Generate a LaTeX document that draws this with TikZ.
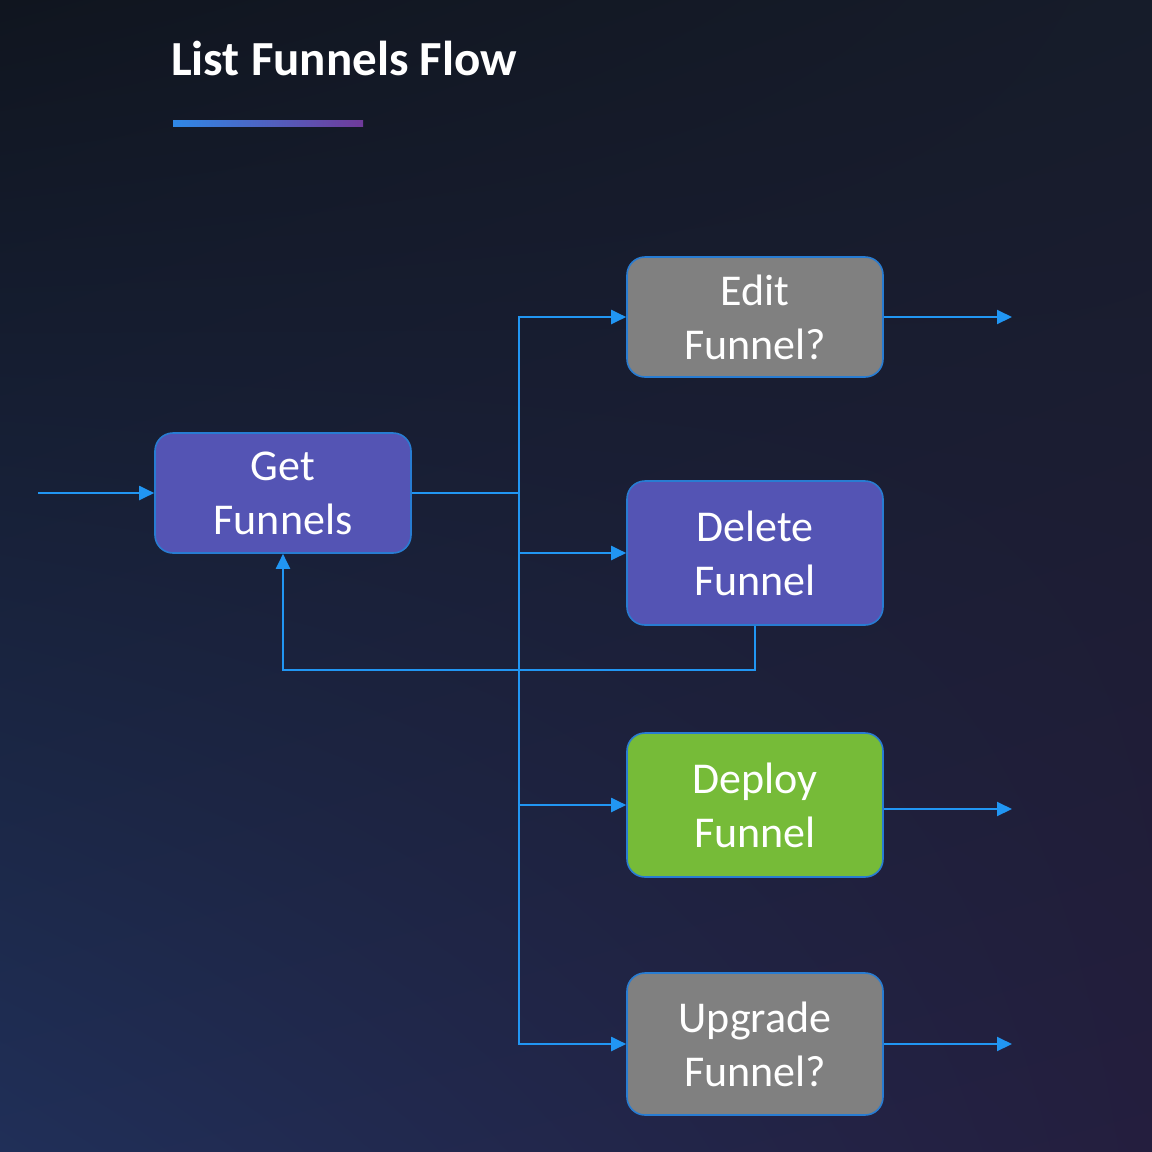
\documentclass[tikz,border=0pt]{standalone}
\usepackage{fontspec}
\setmainfont{Carlito}
\usepackage{xcolor}
\definecolor{bgdark}{RGB}{16,21,31}
\definecolor{bgtopright}{RGB}{22,28,42}
\definecolor{bgblue}{RGB}{32,47,88}
\definecolor{bgpurple}{RGB}{36,30,62}
\definecolor{flowblue}{RGB}{33,150,243}
\definecolor{edgeblue}{RGB}{40,124,210}
\definecolor{boxpurple}{RGB}{84,84,180}
\definecolor{boxgray}{RGB}{128,128,128}
\definecolor{boxgreen}{RGB}{118,187,56}
\definecolor{barblue}{RGB}{47,136,230}
\definecolor{barpurple}{RGB}{112,58,154}
\usetikzlibrary{arrows.meta, positioning, shadings}

\begin{document}
\begin{tikzpicture}[x=1pt, y=-1pt,
    flowbox/.style={draw=edgeblue, line width=1.6pt, rounded corners=18pt,
      minimum width=256pt, minimum height=120pt, align=center, text=white,
      font=\fontsize{44}{54}\selectfont},
    flowline/.style={flowblue, line width=2pt, -{Triangle[length=15pt, width=14pt]}},
    plainline/.style={flowblue, line width=2pt}]

% === Background ===
\shade[upper left=bgdark, upper right=bgtopright, lower left=bgblue, lower right=bgpurple]
  (0,0) rectangle (1152,1152);
\useasboundingbox (0,0) rectangle (1152,1152);

% === Title ===
\node[anchor=base west, inner sep=0pt, text=white, font=\fontsize{49}{58}\selectfont\bfseries]
  (title) at (171,75) {List Funnels Flow};
\shade[left color=barblue, right color=barpurple] (173,120) rectangle (363,126);

% === Boxes ===
\node[flowbox, fill=boxpurple] (get) at (283,493) {Get\\Funnels};
\node[flowbox, fill=boxgray] (edit) at (755,317) {Edit\\Funnel?};
\node[flowbox, fill=boxpurple, minimum height=144pt] (delete) at (755,553) {Delete\\Funnel};
\node[flowbox, fill=boxgreen, minimum height=144pt] (deploy) at (755,805) {Deploy\\Funnel};
\node[flowbox, fill=boxgray, minimum height=142pt] (upgrade) at (755,1044) {Upgrade\\Funnel?};

% Free ends
\coordinate (start) at (38,493);
\coordinate (split) at (519,493);
\coordinate (editout) at (1012,317);
\coordinate (deployout) at (1012,809);
\coordinate (upgradeout) at (1012,1044);

% === Connectors ===
\draw[flowline] (start) -- (get.west);
\draw[plainline] (get.east) -- (split);
\draw[flowline] (split) |- (edit.west);
\draw[flowline] (split) |- (delete.west);
\draw[flowline] (split) |- (deploy.west);
\draw[flowline] (split) |- (upgrade.west);

% Delete loops back
\draw[flowline] (delete.south) -- ++(0,44) -| (get.south);

% Outputs
\draw[flowline] (edit.east) -- (editout);
\draw[flowline] (deploy.east |- deployout) -- (deployout);
\draw[flowline] (upgrade.east) -- (upgradeout);

\end{tikzpicture}
\end{document}
